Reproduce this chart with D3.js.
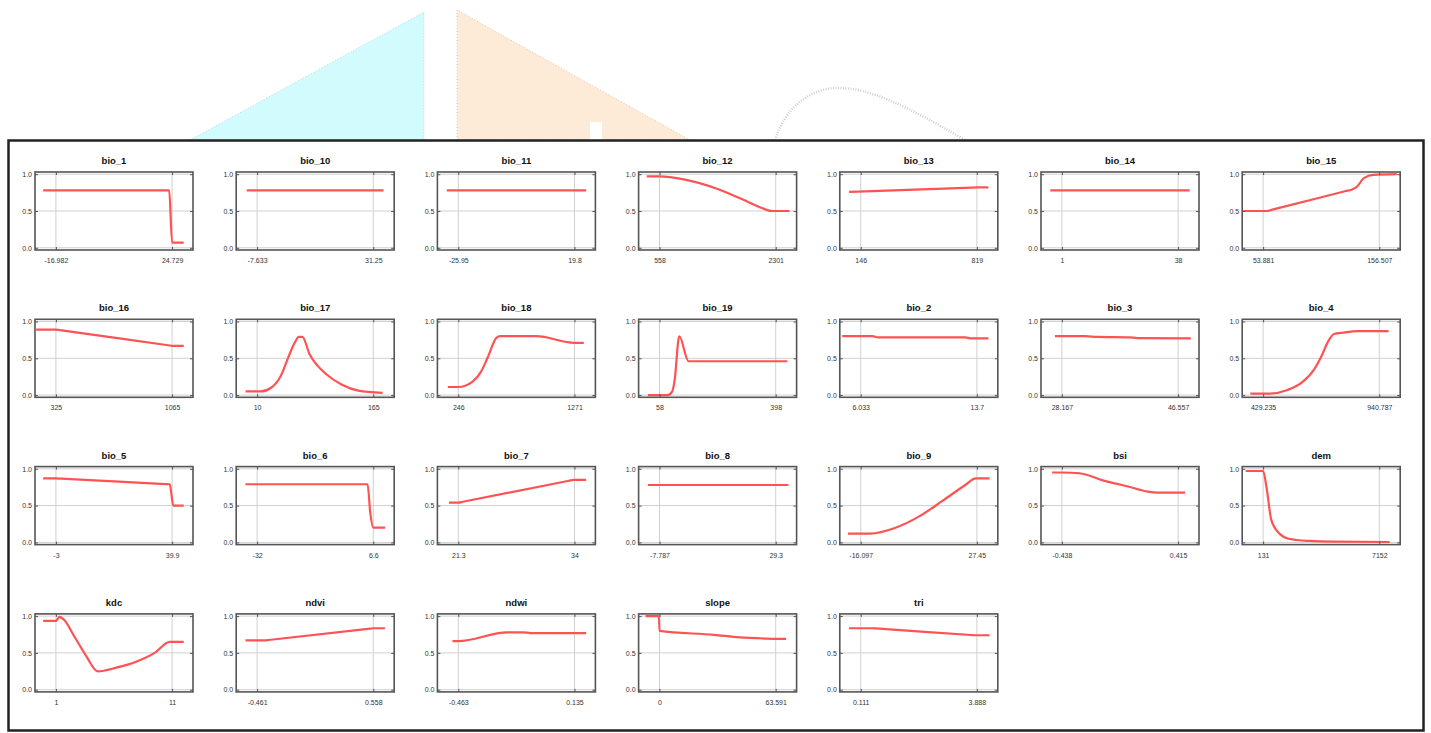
<!DOCTYPE html>
<html>
<head>
<meta charset="utf-8">
<script src="https://cdn.jsdelivr.net/npm/d3@7/dist/d3.min.js"></script>
<style>
  body { margin: 0; background: #fff; }
  svg { display: block; }
  .title { font: bold 9.5px "Liberation Sans", Arial, sans-serif; fill: #111; }
  .tick-label { font: 7px "Liberation Sans", Arial, sans-serif; fill: #333; }
</style>
</head>
<body>
<script>
// panel names, in the order they are laid out (7 per row)
var names = ["bio_1","bio_10","bio_11","bio_12","bio_13","bio_14","bio_15",
             "bio_16","bio_17","bio_18","bio_19","bio_2","bio_3","bio_4",
             "bio_5","bio_6","bio_7","bio_8","bio_9","bsi","dem",
             "kdc","ndvi","ndwi","slope","tri"];

// x tick values (data range) for each panel
var xMin = [-16.982, -7.633, -25.95, 558, 146, 1, 53.881,
            325, 10, 246, 58, 6.033, 28.167, 429.235,
            -3, -32, 21.3, -7.787, -16.097, -0.438, 131,
            1, -0.461, -0.463, 0, 0.111];
var xMax = [24.729, 31.25, 19.8, 2301, 819, 38, 156.507,
            1065, 165, 1271, 398, 13.7, 46.557, 940.787,
            39.9, 6.6, 34, 29.3, 27.45, 0.415, 7152,
            11, 0.558, 0.135, 63.591, 3.888];

var yTicks = [0, 0.5, 1];

// response curves: [x, response]
var c_bio_1  = [[-21.57,0.78],[23.69,0.78],[24.73,0.07],[28.9,0.07]];
var c_bio_10 = [[-11.1,0.78],[34.7,0.78]];
var c_bio_11 = [[-30.5,0.78],[24.4,0.78]];
var c_bio_12 = [[366,0.97],[558,0.97],[924,0.93],[1430,0.80],[1918,0.61],[2092,0.54],[2249,0.50],[2510,0.50]];
var c_bio_13 = [[78.7,0.76],[790,0.818],[819,0.82],[886,0.82]];
var c_bio_14 = [[-2.7,0.78],[41.7,0.78]];
var c_bio_15 = [[36.4,0.5],[57,0.5],[62,0.519],[127,0.771],[131.9,0.79],[136,0.82],[143.2,0.95],[151.4,0.99],[171.9,1.0]];
var c_bio_16 = [[199,0.89],[325,0.89],[350,0.883],[1040,0.677],[1065,0.67],[1139,0.67]];
var c_bio_17 = [[-5.5,0.05],[14.7,0.05],[28.6,0.1],[41,0.25],[51.9,0.52],[59.6,0.7],[65.8,0.79],[70.5,0.79],
                [79.8,0.56],[90.6,0.4],[101.5,0.29],[123.2,0.14],[144.9,0.06],[177.4,0.03]];
var c_bio_18 = [[153.8,0.11],[246,0.11],[369,0.18],[451,0.33],[502,0.5],[584,0.78],[615,0.8],
                [933,0.8],[1271,0.71],[1353,0.71]];
var c_bio_19 = [[24,0.0],[81.8,0.0],[95.4,0.05],[102.2,0.2],[115.8,0.8],[143,0.46],[432,0.46]];
var c_bio_2  = [[4.81,0.8],[6.8,0.8],[7.18,0.785],[12.93,0.785],[13.32,0.77],[14.47,0.77]];
var c_bio_3  = [[27.06,0.8],[31.85,0.8],[33.7,0.79],[38.8,0.785],[40.1,0.775],[48.58,0.77]];
var c_bio_4  = [[372.9,0.02],[454.8,0.02],[536.7,0.07],[603.2,0.18],[654.3,0.35],[685,0.52],
                [715.7,0.73],[741.3,0.83],[782.2,0.85],[848.7,0.87],[981.7,0.87]];
var c_bio_5  = [[-7.7,0.87],[-3,0.87],[-1,0.866],[37.5,0.793],[39.04,0.79],[40.33,0.5],[44.2,0.5]];
var c_bio_6  = [[-35.9,0.79],[4.7,0.79],[5.6,0.4],[6.6,0.2],[10.5,0.2]];
var c_bio_7  = [[20.28,0.54],[21.3,0.54],[21.8,0.552],[33.4,0.838],[33.87,0.85],[35.27,0.85]];
var c_bio_8  = [[-11.5,0.78],[33.4,0.78]];
var c_bio_9  = [[-20.9,0.12],[-12.6,0.12],[-3.03,0.2],[5.68,0.35],[14.39,0.56],[23.1,0.78],[27.0,0.87],[32.24,0.87]];
var c_bsi    = [[-0.51,0.95],[-0.438,0.95],[-0.31,0.94],[-0.131,0.84],[0.048,0.76],[0.193,0.69],[0.27,0.675],[0.466,0.675]];
var c_dem    = [[-922,0.97],[131,0.97],[342,0.74],[622,0.31],[1114,0.12],[1676,0.05],[2939,0.02],[4344,0.01],[7784,0.005]];
var c_kdc    = [[-0.1,0.935],[1.0,0.935],[1.3,0.99],[1.7,0.95],[2.6,0.72],[3.6,0.46],[4.6,0.25],
                [6.2,0.3],[7.9,0.38],[9.5,0.5],[10.8,0.65],[12.0,0.65]];
var c_ndvi   = [[-0.563,0.67],[-0.39,0.67],[-0.36,0.675],[0.53,0.83],[0.558,0.835],[0.66,0.835]];
var c_ndwi   = [[-0.493,0.66],[-0.463,0.66],[-0.212,0.78],[-0.128,0.78],[-0.092,0.77],[0.195,0.77]];
var c_slope  = [[-7.6,1.0],[-0.3,1.0],[0,0.8],[29.9,0.745],[43.9,0.71],[57.9,0.695],[69.3,0.69]];
var c_tri    = [[-0.27,0.835],[0.49,0.835],[0.6,0.832],[3.7,0.743],[3.81,0.74],[4.3,0.74]];

var curves = [c_bio_1,c_bio_10,c_bio_11,c_bio_12,c_bio_13,c_bio_14,c_bio_15,
              c_bio_16,c_bio_17,c_bio_18,c_bio_19,c_bio_2,c_bio_3,c_bio_4,
              c_bio_5,c_bio_6,c_bio_7,c_bio_8,c_bio_9,c_bsi,c_dem,
              c_kdc,c_ndvi,c_ndwi,c_slope,c_tri];

var W = 1431, H = 733;
var pw = 158, ph = 78;          // plot area of one panel
var x0 = 35, dx = 201.2;        // column layout
var y0 = 172, dy = 147.3;       // row layout

var svg = d3.select("body").append("svg")
    .attr("width", W).attr("height", H);

// faint background shapes behind the figure
var bg = svg.append("g");
bg.append("path").attr("d", "M190,140 L424,12 L424,140 Z")
    .attr("fill", "#d2fbfe").attr("stroke", "#b9d9dd").attr("stroke-width", 1).attr("stroke-dasharray", "1,2");
bg.append("path").attr("d", "M457,140 L457,10 L690,140 Z")
    .attr("fill", "#fdebd8").attr("stroke", "#e0c9b4").attr("stroke-width", 1).attr("stroke-dasharray", "1,2");
bg.append("rect").attr("x", 590).attr("y", 122).attr("width", 12).attr("height", 18).attr("fill", "#fff");
bg.append("path").attr("d", "M775,140 C785,108 810,88 838,88 C870,88 905,105 965,140")
    .attr("fill", "none").attr("stroke", "#cfcfcf").attr("stroke-width", 2.5).attr("stroke-dasharray", "1,1.5");

// outer frame
svg.append("rect")
    .attr("x", 8.5).attr("y", 140.5).attr("width", 1415).attr("height", 590)
    .attr("fill", "#fff").attr("stroke", "#222").attr("stroke-width", 2.5);

var y = d3.scaleLinear().domain([-0.03, 1.03]).range([ph, 0]);

names.forEach(function(name, i) {
  var col = i % 7, row = Math.floor(i / 7);
  var lo = xMin[i], hi = xMax[i], r = hi - lo;
  var x = d3.scaleLinear().domain([lo - 0.18 * r, hi + 0.18 * r]).range([0, pw]);

  var g = svg.append("g")
      .attr("transform", "translate(" + (x0 + col * dx) + "," + (y0 + row * dy) + ")");

  // grid
  g.selectAll(".vgrid").data([lo, hi]).enter().append("line")
      .attr("x1", function(d) { return x(d); }).attr("x2", function(d) { return x(d); })
      .attr("y1", 0).attr("y2", ph)
      .attr("stroke", "#d0d0d0").attr("stroke-width", 1);
  g.selectAll(".hgrid").data(yTicks).enter().append("line")
      .attr("x1", 0).attr("x2", pw)
      .attr("y1", function(d) { return y(d); }).attr("y2", function(d) { return y(d); })
      .attr("stroke", "#d0d0d0").attr("stroke-width", 1);

  // curve
  var line = d3.line()
      .x(function(d) { return x(d[0]); })
      .y(function(d) { return y(d[1]); })
      .curve(d3.curveMonotoneX);
  g.append("path").datum(curves[i])
      .attr("d", line)
      .attr("fill", "none")
      .attr("stroke", "#ff5252")
      .attr("stroke-width", 2.2)
      .attr("stroke-linejoin", "round");

  // axes: inward ticks on all four sides, labels left and bottom
  var ax = d3.axisBottom(x).tickValues([lo, hi]).tickSize(3).tickFormat(function(d) { return String(d); });
  var bottom = g.append("g").attr("transform", "translate(0," + ph + ")").call(ax);
  bottom.selectAll(".tick line").attr("y2", -3);
  bottom.selectAll(".tick text").attr("y", 8).attr("class", "tick-label");

  var top = g.append("g").call(d3.axisTop(x).tickValues([lo, hi]).tickSize(3).tickFormat(""));
  top.selectAll(".tick line").attr("y2", 3);

  var left = g.append("g").call(d3.axisLeft(y).tickValues(yTicks).tickSize(3).tickFormat(d3.format(".1f")));
  left.selectAll(".tick line").attr("x2", 3);
  left.selectAll(".tick text").attr("x", -3).attr("class", "tick-label");

  var right = g.append("g").attr("transform", "translate(" + pw + ",0)")
      .call(d3.axisRight(y).tickValues(yTicks).tickSize(3).tickFormat(""));
  right.selectAll(".tick line").attr("x2", -3);

  g.selectAll(".domain").remove();
  g.selectAll(".tick line").attr("stroke", "#555");

  // frame
  g.append("rect").attr("width", pw).attr("height", ph)
      .attr("fill", "none").attr("stroke", "#555").attr("stroke-width", 1.6);

  g.append("text").attr("class", "title")
      .attr("x", pw / 2).attr("y", -8)
      .attr("text-anchor", "middle")
      .text(name);
});
</script>
</body>
</html>
